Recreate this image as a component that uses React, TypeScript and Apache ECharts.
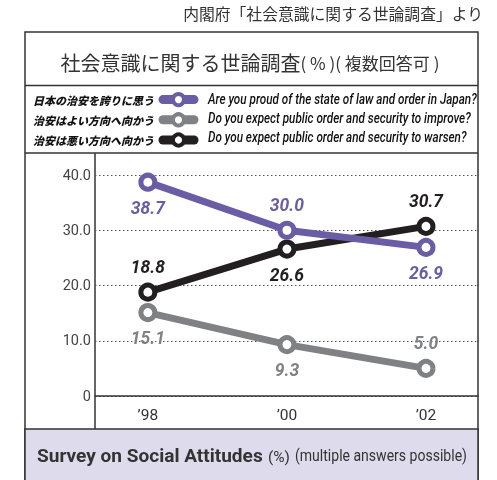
import { useEffect, useRef } from 'react';
import * as echarts from 'echarts';

const years = ['\u201998', '\u201900', '\u201902'];
const proud = [38.7, 30.0, 26.9];
const improve = [15.1, 9.3, 5.0];
const worsen = [18.8, 26.6, 30.7];
const proudLabelPos = ['bottom', 'top', 'bottom'];
const improveLabelPos = ['bottom', 'bottom', 'top'];
const worsenLabelPos = ['top', 'bottom', 'top'];
const namesJP = ['日本の治安を誇りに思う', '治安はよい方向へ向かう', '治安は悪い方向へ向かう'];
const namesEN = [
  'Are you proud of the state of law and order in Japan?',
  'Do you expect public order and security to improve?',
  'Do you expect public order and security to warsen?',
];
const colors = ['#6a5da5', '#808184', '#231f20'];
const titleMain = '社会意識に関する世論調査';
const titleSub = '( % )( 複数回答可 )';
const sourceText = '内閣府「社会意識に関する世論調査」より';
const footMain = 'Survey on Social Attitudes';
const footPct = '(%)';
const footSub = '(multiple answers possible)';

const SANS = 'Roboto, "Liberation Sans", sans-serif';
const CJK = '"Noto Sans CJK JP", "Noto Sans", sans-serif';

function measure(text: string, font: string): number {
  const c = document.createElement('canvas');
  const ctx = c.getContext('2d');
  if (!ctx) return text.length * 7;
  ctx.font = font;
  return ctx.measureText(text).width;
}

function fitText(text: string, font: string, x: number, y: number, width: number, fill: string) {
  const w = measure(text, font);
  const s = w > 0 ? width / w : 1;
  return {
    type: 'text',
    x,
    y,
    scaleX: s,
    style: { text, fill, font, textAlign: 'left', textVerticalAlign: 'middle' },
  };
}

export default function App() {
  const ref = useRef<HTMLDivElement>(null);
  useEffect(() => {
    if (!ref.current) return;
    const chart = echarts.init(ref.current, null, { renderer: 'svg' });
    const mk = (vals: number[], pos: string[], idx: number) => ({
      name: namesJP[idx],
      type: 'line',
      z: idx === 0 ? 5 : idx === 2 ? 4 : 3,
      data: vals.map((v, i) => ({
        value: [i, v],
        label: { position: pos[i] },
      })),
      symbol: 'circle',
      symbolSize: 14,
      lineStyle: { color: colors[idx], width: 7 },
      itemStyle: { color: '#fff', borderColor: colors[idx], borderWidth: 5 },
      label: {
        show: true,
        distance: 7,
        formatter: (p: any) => p.value[1].toFixed(1),
        color: colors[idx],
        fontFamily: SANS,
        fontWeight: 'bold',
        fontStyle: 'italic',
        fontSize: 17.5,
      },
      emphasis: { disabled: true },
    });
    const enFont = `italic 500 14.5px ${SANS}`;
    const enScale = 269 / measure(namesEN[0], enFont);
    const enTexts = namesEN.map((t, i) => ({
      type: 'text',
      x: 208,
      y: 99 + i * 19,
      scaleX: enScale,
      style: {
        text: t,
        fill: '#111',
        font: enFont,
        textAlign: 'left',
        textVerticalAlign: 'middle',
      },
    }));
    chart.setOption({
      animation: false,
      grid: { left: 95, right: 19, top: 175, bottom: 84 },
      xAxis: {
        type: 'value',
        min: -0.38,
        max: 2.374,
        axisLine: { show: true, lineStyle: { color: '#333', width: 1.5 } },
        axisTick: { show: false },
        splitLine: { show: false },
        axisLabel: {
          customValues: [0, 1, 2],
          formatter: (v: number) => years[Math.round(v)] ?? '',
          color: '#333',
          fontFamily: SANS,
          fontSize: 15.5,
          margin: 11,
        },
      },
      yAxis: {
        type: 'value',
        min: 0,
        max: 40,
        interval: 10,
        axisLine: { show: false },
        axisTick: { show: false },
        axisLabel: {
          formatter: (v: number) => (v === 0 ? '0' : v.toFixed(1)),
          color: '#444',
          fontFamily: SANS,
          fontSize: 14.5,
          margin: 4,
        },
        splitLine: { show: true, lineStyle: { color: '#555', type: [1.5, 2.5], width: 1.2 } },
      },
      legend: {
        orient: 'vertical',
        align: 'right',
        right: 298.5,
        top: 92,
        padding: 0,
        itemWidth: 31,
        itemHeight: 14,
        itemGap: 5,
        selectedMode: false,
        data: namesJP.map((n, i) => ({
          name: n,
          itemStyle: { color: '#fff', borderColor: colors[i], borderWidth: 4 },
          lineStyle: { color: colors[i], width: 9, cap: 'round' },
        })),
        textStyle: {
          color: '#111',
          fontFamily: CJK,
          fontWeight: 900,
          fontStyle: 'italic',
          fontSize: 11,
          padding: [0, 4, 0, 0],
        },
      },
      graphic: [
        {
          type: 'rect',
          shape: { x: 25, y: 32, width: 453, height: 460 },
          style: { fill: 'none', stroke: '#333', lineWidth: 1.5 },
          z: -1,
        },
        {
          type: 'line',
          shape: { x1: 25, y1: 85.5, x2: 478, y2: 85.5 },
          style: { stroke: '#333', lineWidth: 1.5 },
        },
        {
          type: 'line',
          shape: { x1: 25, y1: 153, x2: 478, y2: 153 },
          style: { stroke: '#333', lineWidth: 1.5 },
        },
        {
          type: 'line',
          shape: { x1: 95, y1: 153, x2: 95, y2: 429 },
          style: { stroke: '#333', lineWidth: 1.5 },
        },
        {
          type: 'rect',
          shape: { x: 25, y: 429, width: 453, height: 60 },
          style: { fill: '#dedcec', stroke: '#333', lineWidth: 1.5 },
        },
        {
          type: 'text',
          x: 483,
          y: 13,
          style: {
            text: sourceText,
            fill: '#333',
            font: `15.8px ${CJK}`,
            textAlign: 'right',
            textVerticalAlign: 'middle',
          },
        },
        {
          type: 'text',
          x: 250,
          y: 62,
          style: {
            text: `{a|${titleMain}}{b|${titleSub}}`,
            rich: {
              a: { fontSize: 20, fontFamily: CJK, fill: '#333', color: '#333' },
              b: { fontSize: 17, fontFamily: CJK, fill: '#333', color: '#333' },
            },
            textAlign: 'center',
            textVerticalAlign: 'middle',
          },
        },
        fitText(footMain, `bold 19px ${SANS}`, 37, 456, 226, '#333'),
        fitText(footPct, `14px ${SANS}`, 268, 457, 22, '#333'),
        fitText(footSub, `16.5px ${SANS}`, 295, 456, 172, '#333'),
        ...enTexts,
      ],
      series: [mk(improve, improveLabelPos, 1), mk(worsen, worsenLabelPos, 2), mk(proud, proudLabelPos, 0)],
    });
    return () => chart.dispose();
  }, []);
  return <div ref={ref} style={{ position: 'fixed', left: 0, top: 0, width: 497, height: 480 }} />;
}
